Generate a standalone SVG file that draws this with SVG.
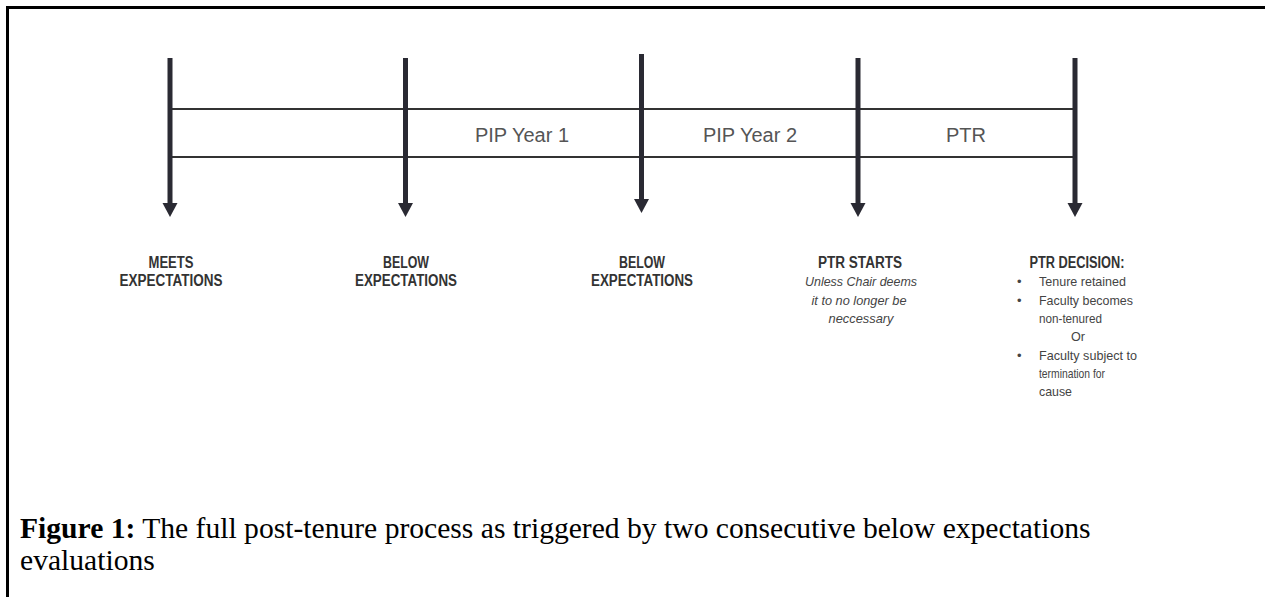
<svg xmlns="http://www.w3.org/2000/svg" width="1265" height="597" viewBox="0 0 1265 597">
  <defs>
    <style>
      .frame { stroke: #000; stroke-width: 3; fill: none; }
      .shaft { stroke: #2a2a33; stroke-width: 5; fill: none; }
      .head { fill: #2a2a33; }
      .band { stroke: #333; stroke-width: 2; fill: none; }
      .period { font-family: "Liberation Sans", Arial, sans-serif; font-size: 20px; fill: #555; text-anchor: middle; }
      .title { font-family: "Liberation Sans Narrow", "Liberation Sans", Arial, sans-serif; font-weight: bold; font-size: 16px; fill: #333; text-anchor: middle; }
      .note { font-family: "Liberation Sans Narrow", "Liberation Sans", Arial, sans-serif; font-style: italic; font-size: 13px; fill: #444; text-anchor: middle; }
      .item { font-family: "Liberation Sans Narrow", "Liberation Sans", Arial, sans-serif; font-size: 13px; fill: #444; }
      .caption { font-family: "Liberation Serif", "Times New Roman", serif; font-size: 29.6px; fill: #000; }
    </style>
  </defs>
  <rect width="1265" height="597" fill="#fff"/>
  <path class="frame" d="M7.5 597 V7.5 H1265"/>

  <g id="connectors">
    <line class="band" x1="170" y1="109" x2="1075" y2="109"/>
    <line class="band" x1="170" y1="157" x2="1075" y2="157"/>
    <line class="shaft" x1="170" y1="58" x2="170" y2="205"/>
    <polygon class="head" points="162.5,203 177.5,203 170,217"/>
    <line class="shaft" x1="405.5" y1="58" x2="405.5" y2="205"/>
    <polygon class="head" points="398,203 413,203 405.5,217"/>
    <line class="shaft" x1="641.5" y1="54" x2="641.5" y2="201"/>
    <polygon class="head" points="634,199 649,199 641.5,213"/>
    <line class="shaft" x1="858" y1="58" x2="858" y2="205"/>
    <polygon class="head" points="850.5,203 865.5,203 858,217"/>
    <line class="shaft" x1="1075" y1="58" x2="1075" y2="205"/>
    <polygon class="head" points="1067.5,203 1082.5,203 1075,217"/>
  </g>

  <g id="period-pip1"><text class="period" x="522" y="142">PIP Year 1</text></g>
  <g id="period-pip2"><text class="period" x="750" y="142">PIP Year 2</text></g>
  <g id="period-ptr"><text class="period" x="966" y="142">PTR</text></g>

  <g id="node-meets">
    <text class="title" x="171" y="268" textLength="45" lengthAdjust="spacingAndGlyphs">MEETS</text>
    <text class="title" x="171" y="286" textLength="103" lengthAdjust="spacingAndGlyphs">EXPECTATIONS</text>
  </g>
  <g id="node-below1">
    <text class="title" x="406" y="268" textLength="46" lengthAdjust="spacingAndGlyphs">BELOW</text>
    <text class="title" x="406" y="286" textLength="102" lengthAdjust="spacingAndGlyphs">EXPECTATIONS</text>
  </g>
  <g id="node-below2">
    <text class="title" x="642" y="268" textLength="46" lengthAdjust="spacingAndGlyphs">BELOW</text>
    <text class="title" x="642" y="286" textLength="102" lengthAdjust="spacingAndGlyphs">EXPECTATIONS</text>
  </g>
  <g id="node-ptr-starts">
    <text class="title" x="860" y="268" textLength="84" lengthAdjust="spacingAndGlyphs">PTR STARTS</text>
    <text class="note" x="861" y="286" textLength="112" lengthAdjust="spacingAndGlyphs">Unless Chair deems</text>
    <text class="note" x="859" y="305" textLength="95" lengthAdjust="spacingAndGlyphs">it to no longer be</text>
    <text class="note" x="861" y="323" textLength="65" lengthAdjust="spacingAndGlyphs">neccessary</text>
  </g>
  <g id="node-ptr-decision">
    <text class="title" x="1077" y="268" textLength="95" lengthAdjust="spacingAndGlyphs">PTR DECISION:</text>
    <text class="item" x="1017" y="286">•</text>
    <text class="item" x="1039" y="286" textLength="87" lengthAdjust="spacingAndGlyphs">Tenure  retained</text>
    <text class="item" x="1017" y="305">•</text>
    <text class="item" x="1039" y="305" textLength="94" lengthAdjust="spacingAndGlyphs">Faculty becomes</text>
    <text class="item" x="1039" y="323" textLength="63" lengthAdjust="spacingAndGlyphs">non-tenured</text>
    <text class="item" x="1071" y="341" textLength="14" lengthAdjust="spacingAndGlyphs">Or</text>
    <text class="item" x="1017" y="360">•</text>
    <text class="item" x="1039" y="360" textLength="98" lengthAdjust="spacingAndGlyphs">Faculty subject to</text>
    <text class="item" x="1039" y="378" textLength="66" lengthAdjust="spacingAndGlyphs">termination  for</text>
    <text class="item" x="1039" y="396" textLength="33" lengthAdjust="spacingAndGlyphs">cause</text>
  </g>

  <g id="caption">
    <text class="caption" x="20" y="538"><tspan font-weight="bold">Figure 1:</tspan> The full post-tenure process as triggered by two consecutive below expectations</text>
    <text class="caption" x="20" y="570">evaluations</text>
  </g>
</svg>
